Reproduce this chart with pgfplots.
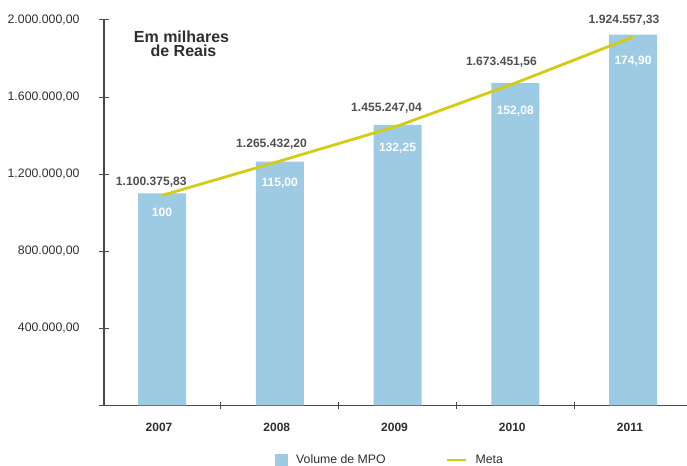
\documentclass[border=0pt]{standalone}
\usepackage{pgfplots}
\pgfplotsset{compat=1.18}
\usepackage{fontspec}
\setmainfont{Liberation Sans}
\definecolor{barblue}{HTML}{9DCBE3}
\definecolor{metacol}{HTML}{D4CC14}
\definecolor{axisgray}{HTML}{4A4A4A}
\definecolor{txt}{HTML}{2E2E2E}
\definecolor{vlab}{HTML}{505050}
\begin{document}
\begin{tikzpicture}
\useasboundingbox (0,0) rectangle (687bp,466bp);
\begin{axis}[
  at={(104bp,60.5bp)}, anchor=south west,
  scale only axis, width=583bp, height=385.5bp,
  xmin=-0.4926, xmax=4.4586, ymin=0, ymax=2000000,
  clip=false,
  axis lines*=left,
  axis line style={axisgray, line width=1.1bp},
  tick align=center,
  xtick={0,1,2,3,4},
  xticklabels={2007,2008,2009,2010,2011},
  major x tick style={draw=none},
  minor xtick={0.5,1.5,2.5,3.5},
  minor tick length=7bp,
  major tick length=10bp,
  every tick/.style={axisgray, line width=1bp},
  ytick={0,400000,800000,1200000,1600000,2000000},
  yticklabels={{},{400.000,00},{800.000,00},{1.200.000,00},{1.600.000,00},{2.000.000,00}},
  yticklabel style={font=\fontsize{12.3bp}{14bp}\selectfont, text=txt, xshift=-16bp},
  xticklabel style={font=\bfseries\fontsize{12bp}{14bp}\selectfont, text=txt, xshift=-3bp, yshift=-9.5bp},
  scaled y ticks=false,
  legend columns=2,
  legend cell align=left,
  legend style={draw=none, fill=none, inner sep=0pt, at={(0.2933,-0.1414)}, anchor=west,
    font=\fontsize{12.3bp}{14bp}\selectfont, text=txt,
    /tikz/every odd column/.append style={column sep=6bp},
    /tikz/every even column/.append style={column sep=58bp}},
]
\addplot[ybar, bar width=48bp, fill=barblue, draw=none,
  legend image code/.code={\fill[barblue] (0bp,-6bp) rectangle (13bp,6bp);}]
  coordinates {(0,1100375.83) (1,1265432.20) (2,1455247.04) (3,1673451.56) (4,1924557.33)};
\addlegendentry{Volume de MPO}
\addplot[metacol, line width=2.8bp, no marks,
  legend image code/.code={\draw[metacol, line width=2.8bp] (0bp,0bp) -- (19bp,0bp);}]
  coordinates {(0,1090000) (1,1268000) (2,1450000) (3,1673000) (4,1912000)};
\addlegendentry{Meta}
% value labels above bars
\begin{scope}[every node/.style={font=\bfseries\fontsize{12.1bp}{14bp}\selectfont, text=vlab, anchor=base, yshift=-4.4bp}]
\node at (axis cs:-0.091,1164722) {1.100.375,83};
\node at (axis cs:0.930,1359275) {1.265.432,20};
\node at (axis cs:1.907,1548640) {1.455.247,04};
\node at (axis cs:2.883,1787290) {1.673.451,56};
\node at (axis cs:3.924,2002595) {1.924.557,33};
\end{scope}
\begin{scope}[every node/.style={font=\bfseries\fontsize{12.1bp}{14bp}\selectfont, text=white, anchor=base, yshift=-4.4bp}]
\node at (axis cs:0,1001297) {100};
\node at (axis cs:1,1159534) {115,00};
\node at (axis cs:2,1338522) {132,25};
\node at (axis cs:3,1530480) {152,08};
\node at (axis cs:4,1792479) {174,90};
\end{scope}
\end{axis}
\node[font=\bfseries\fontsize{16bp}{14.5bp}\selectfont, text=txt, align=center, anchor=base] at (181.5bp,409bp)
  {Em milhares\\\hspace*{4bp}de Reais};
\end{tikzpicture}
\end{document}
